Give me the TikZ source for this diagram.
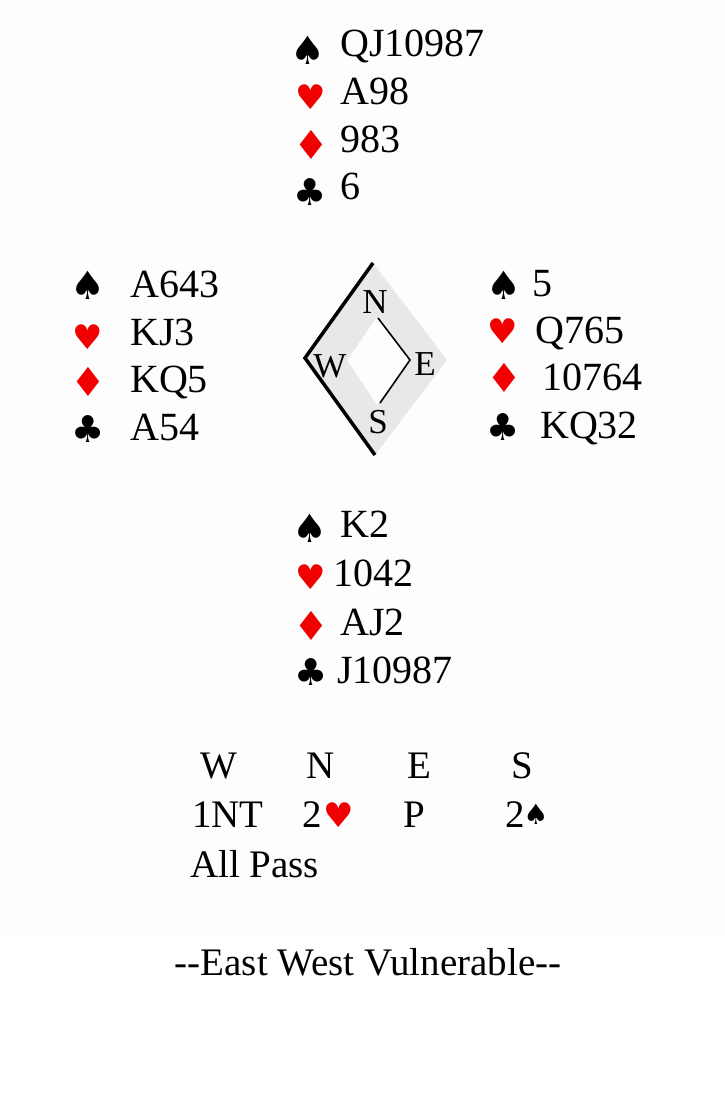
\documentclass[tikz,border=0pt]{standalone}
\usepackage{fontspec}
\setmainfont{Liberation Serif}
\newfontfamily\suitfont{DejaVu Sans}
\definecolor{suitred}{RGB}{240,0,0}
\definecolor{compassgray}{RGB}{232,232,232}
\definecolor{bgtop}{RGB}{253,253,253}
\begin{document}
\begin{tikzpicture}[x=1pt,y=-1pt,
  card/.style={anchor=base west,inner sep=0pt,font=\fontsize{40}{48}\selectfont},
  bid/.style={anchor=base,inner sep=0pt,font=\fontsize{39}{46}\selectfont},
  suitspade/.style={inner sep=0pt,font=\suitfont\fontsize{39}{42}\selectfont,text=black},
  suitclub/.style={inner sep=0pt,font=\suitfont\fontsize{37}{40}\selectfont,text=black},
  suitheart/.style={inner sep=0pt,font=\suitfont\fontsize{34}{36}\selectfont,text=suitred},
  suitdiam/.style={inner sep=0pt,font=\suitfont\fontsize{40}{42}\selectfont,text=suitred},
  cmp/.style={inner sep=0pt,font=\fontsize{35}{38}\selectfont}]
\useasboundingbox (0,0) rectangle (725,1098);
\fill[bgtop] (0,0) rectangle (725,935);
% North
\node[suitspade] (ns) at (308,50) {♠};
\node[card] (nst) at (340,56) {QJ10987};
\node[suitheart] (nh) at (311,97) {♥};
\node[card] (nht) at (340,104) {A98};
\node[suitdiam] (nd) at (311,145) {♦};
\node[card] (ndt) at (340,152) {983};
\node[suitclub] (nc) at (310,192) {♣};
\node[card] (nct) at (340,199) {6};
% West
\node[suitspade] (ws) at (88,285) {♠};
\node[card] (wst) at (130,297) {A643};
\node[suitheart] (wh) at (88,337) {♥};
\node[card] (wht) at (130,345) {KJ3};
\node[suitdiam] (wd) at (88,382) {♦};
\node[card] (wdt) at (130,392) {KQ5};
\node[suitclub] (wc) at (88,429) {♣};
\node[card] (wct) at (130,440) {A54};
% East
\node[suitspade] (es) at (504,285) {♠};
\node[card] (est) at (532,296) {5};
\node[suitheart] (eh) at (503,331) {♥};
\node[card] (eht) at (535,343) {Q765};
\node[suitdiam] (ed) at (504,378) {♦};
\node[card] (edt) at (542,390) {10764};
\node[suitclub] (ec) at (503,427) {♣};
\node[card] (ect) at (540,438) {KQ32};
% South
\node[suitspade] (ss) at (310,528) {♠};
\node[card] (sst) at (340,537) {K2};
\node[suitheart] (sh) at (311,577) {♥};
\node[card] (sht) at (333,586) {1042};
\node[suitdiam] (sd) at (311,626) {♦};
\node[card] (sdt) at (340,635) {AJ2};
\node[suitclub] (sc) at (311,672) {♣};
\node[card] (sct) at (337,683) {J10987};
% Compass
\coordinate (ot) at (373,263);
\coordinate (ol) at (305,358);
\coordinate (ob) at (375,455);
\coordinate (or) at (447,360);
\coordinate (it) at (377,317);
\coordinate (il) at (347,360);
\coordinate (ib) at (377,405);
\coordinate (ir) at (410,360);
\fill[compassgray,even odd rule] (ot) -- (ol) -- (ob) -- (or) -- cycle (it) -- (il) -- (ib) -- (ir) -- cycle;
\draw[line width=3.5pt,line join=miter] (ot) -- (ol) -- (ob);
\draw[line width=1.6pt] (378,318) -- (ir) -- (380,403);
\node[cmp] (cn) at (375,302) {N};
\node[cmp] (cw) at (330,366) {W};
\node[cmp] (ce) at (425,364) {E};
\node[cmp] (cs) at (378,422) {S};
% Bidding
\node[bid] (bw) at (219,778) {W};
\node[bid] (bn) at (321,778) {N};
\node[bid] (be) at (419,778) {E};
\node[bid] (bs) at (522,778) {S};
\node[bid,anchor=base west] (b1) at (192,827) {1NT};
\node[bid,anchor=base west] (b2) at (302,827) {2};
\node[suitheart] (b2h) at (339,815) {♥};
\node[bid,anchor=base west] (b3) at (403,827) {P};
\node[bid,anchor=base west] (b4) at (505,827) {2};
\node[suitspade,font=\suitfont\fontsize{28}{31}\selectfont] (b4s) at (536,814) {♠};
\node[bid,anchor=base west] (b5) at (190,877) {All Pass};
% Vulnerability
\node[bid] (vul) at (368,975) {-{}-East West Vulnerable-{}-};
\end{tikzpicture}
\end{document}
